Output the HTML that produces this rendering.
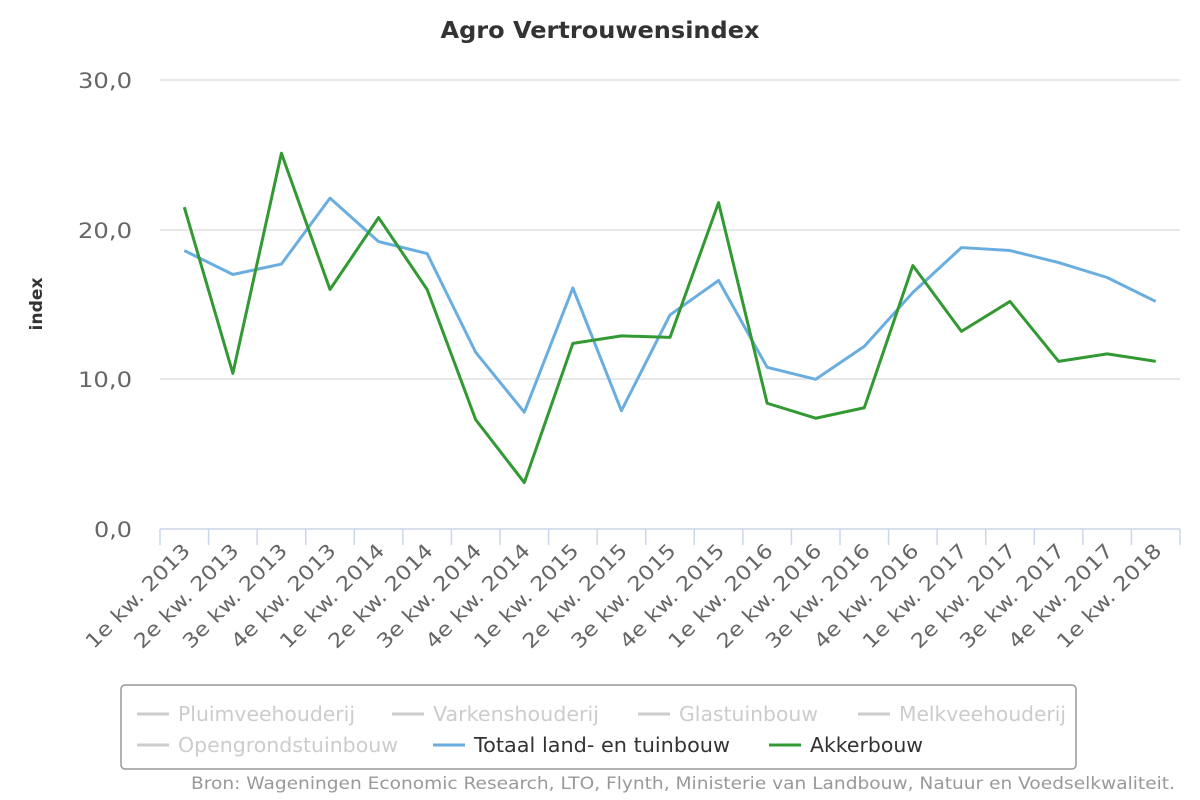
<!DOCTYPE html>
<html><head><meta charset="utf-8"><style>
html,body{margin:0;padding:0;background:#fff;}
svg{display:block;font-family:"DejaVu Sans","Liberation Sans",sans-serif;}
</style></head><body>
<svg width="1200" height="800" viewBox="0 0 1200 800" xmlns="http://www.w3.org/2000/svg">
<rect width="1200" height="800" fill="#fff"/>
<text x="600" y="38" text-anchor="middle" font-size="23" font-weight="bold" fill="#333" textLength="319" lengthAdjust="spacingAndGlyphs">Agro Vertrouwensindex</text>
<g stroke="#e0e0e0" stroke-width="1.5">
<line x1="160" y1="80" x2="1180" y2="80"/>
<line x1="160" y1="230" x2="1180" y2="230"/>
<line x1="160" y1="379" x2="1180" y2="379"/>
</g>
<line x1="160" y1="529" x2="1180" y2="529" stroke="#ccd6eb" stroke-width="1.5"/>
<g fill="#666" font-size="21">
<text x="78" y="88" textLength="54" lengthAdjust="spacingAndGlyphs">30,0</text>
<text x="78" y="238" textLength="54" lengthAdjust="spacingAndGlyphs">20,0</text>
<text x="78" y="387" textLength="54" lengthAdjust="spacingAndGlyphs">10,0</text>
<text x="94" y="537" textLength="38" lengthAdjust="spacingAndGlyphs">0,0</text>
</g>
<text transform="translate(42,304) rotate(-90)" text-anchor="middle" font-size="17" font-weight="bold" fill="#333" textLength="53" lengthAdjust="spacingAndGlyphs">index</text>
<g id="ticks" stroke="#ccd6eb" stroke-width="1.5"></g>
<g id="labels" fill="#666" font-size="20"></g>
<polyline id="blue" fill="none" stroke="#6aaee0" stroke-width="3" stroke-linejoin="round"/>
<polyline id="green" fill="none" stroke="#339933" stroke-width="3" stroke-linejoin="round"/>
<rect x="121" y="685" width="955" height="84" rx="4" fill="#fff" stroke="#999" stroke-width="1.5"/>
<g font-size="20">
<line x1="137" y1="714" x2="169" y2="714" stroke="#ccc" stroke-width="3"/><text x="178" y="721" fill="#ccc" textLength="177" lengthAdjust="spacingAndGlyphs">Pluimveehouderij</text>
<line x1="392" y1="714" x2="424" y2="714" stroke="#ccc" stroke-width="3"/><text x="433" y="721" fill="#ccc" textLength="166" lengthAdjust="spacingAndGlyphs">Varkenshouderij</text>
<line x1="638" y1="714" x2="670" y2="714" stroke="#ccc" stroke-width="3"/><text x="679" y="721" fill="#ccc" textLength="139" lengthAdjust="spacingAndGlyphs">Glastuinbouw</text>
<line x1="858" y1="714" x2="890" y2="714" stroke="#ccc" stroke-width="3"/><text x="899" y="721" fill="#ccc" textLength="167" lengthAdjust="spacingAndGlyphs">Melkveehouderij</text>
<line x1="137" y1="745" x2="169" y2="745" stroke="#ccc" stroke-width="3"/><text x="178" y="752" fill="#ccc" textLength="220" lengthAdjust="spacingAndGlyphs">Opengrondstuinbouw</text>
<line x1="433" y1="745" x2="465" y2="745" stroke="#6aaee0" stroke-width="3"/><text x="474" y="752" fill="#333" textLength="256" lengthAdjust="spacingAndGlyphs">Totaal land- en tuinbouw</text>
<line x1="769" y1="745" x2="801" y2="745" stroke="#339933" stroke-width="3"/><text x="810" y="752" fill="#333" textLength="113" lengthAdjust="spacingAndGlyphs">Akkerbouw</text>
</g>
<text x="191" y="789" font-size="17" fill="#999" textLength="984" lengthAdjust="spacingAndGlyphs">Bron: Wageningen Economic Research, LTO, Flynth, Ministerie van Landbouw, Natuur en Voedselkwaliteit.</text>
<script>
var b=[18.6,17.0,17.7,22.1,19.2,18.4,11.8,7.8,16.1,7.9,14.3,16.6,10.8,10.0,12.2,15.8,18.8,18.6,17.8,16.8,15.2];
var g=[21.5,10.4,25.1,16.0,20.8,16.0,7.3,3.1,12.4,12.9,12.8,21.8,8.4,7.4,8.1,17.6,13.2,15.2,11.2,11.7,11.2];
var labs=[];for(var y=2013;y<=2018;y++)for(var q=1;q<=4;q++)labs.push(q+"e kw. "+y);
var w=1020/21,ns="http://www.w3.org/2000/svg";
function X(i){return 160+w*(i+0.5);}function Y(v){return 529-v*14.97;}
document.getElementById('blue').setAttribute('points',b.map(function(v,i){return X(i)+','+Y(v)}).join(' '));
document.getElementById('green').setAttribute('points',g.map(function(v,i){return X(i)+','+Y(v)}).join(' '));
var t=document.getElementById('ticks'),L=document.getElementById('labels');
for(var i=0;i<=21;i++){var l=document.createElementNS(ns,'line');var x=160+w*i;l.setAttribute('x1',x);l.setAttribute('x2',x);l.setAttribute('y1',529);l.setAttribute('y2',545);t.appendChild(l);}
for(var i=0;i<21;i++){var tx=document.createElementNS(ns,'text');var x=X(i)+7,y=552;tx.setAttribute('text-anchor','end');tx.setAttribute('textLength','138');tx.setAttribute('lengthAdjust','spacingAndGlyphs');tx.setAttribute('transform','translate('+x+','+y+') rotate(-45)');tx.textContent=labs[i];L.appendChild(tx);}
</script>
</svg>
</body></html>
